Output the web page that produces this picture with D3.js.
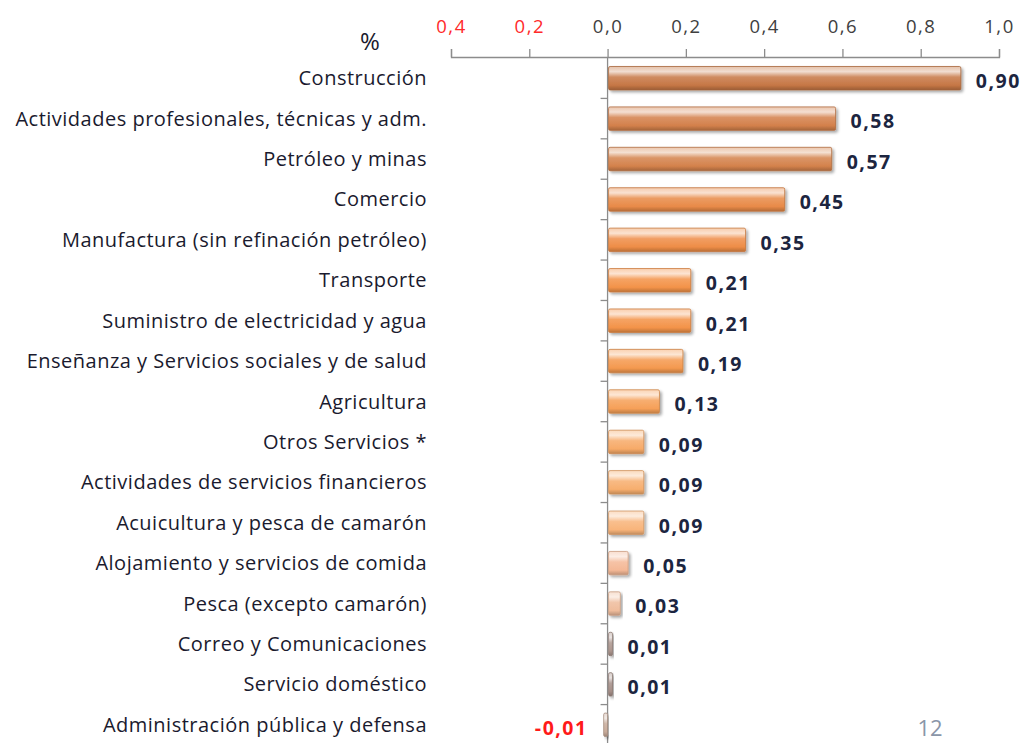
<!DOCTYPE html>
<html>
<head>
<meta charset="utf-8">
<script src="https://d3js.org/d3.v7.min.js"></script>
<style>
  body { margin: 0; background: #fff; }
  svg { font-family: "Open Sans", sans-serif; }
</style>
</head>
<body>
<script>
// sectors and their contribution (%)
var sectors = ["Construcción", "Actividades profesionales, técnicas y adm.", "Petróleo y minas",
  "Comercio", "Manufactura (sin refinación petróleo)", "Transporte",
  "Suministro de electricidad y agua", "Enseñanza  y Servicios sociales y de salud",
  "Agricultura", "Otros Servicios *", "Actividades de servicios financieros",
  "Acuicultura y pesca de camarón", "Alojamiento y servicios de comida ",
  "Pesca (excepto camarón)", "Correo y Comunicaciones", "Servicio doméstico",
  "Administración pública y defensa"]
var values = [0.90, 0.58, 0.57, 0.45, 0.35, 0.21, 0.21, 0.19, 0.13, 0.09, 0.09, 0.09, 0.05, 0.03, 0.01, 0.01, -0.01]
var tickValues = [-0.4, -0.2, 0, 0.2, 0.4, 0.6, 0.8, 1.0]

// bar colours, one per sector
var barColors = ["#c67745", "#d3804b", "#d4824c", "#e88a48", "#ee8d47", "#f39349", "#f39349",
  "#f4994f", "#f6a058", "#f7aa68", "#f7ae6e", "#f8b47a", "#f4b896", "#efbc9c",
  "#ad968e", "#a68f88", "#c8ab9a"]

var width = 1026, height = 743

var svg = d3.select("body").append("svg")
    .attr("width", width)
    .attr("height", height)

var fmt = function(v, d) {
  return v.toFixed(d).replace(".", ",")
}

var x = d3.scaleLinear().domain([-0.4, 1.0]).range([451, 999])
var y = d3.scaleBand().domain(sectors).range([58, 745]).paddingInner(0.42).paddingOuter(0.21)

var defs = svg.append("defs")
var shadow = defs.append("filter").attr("id", "shadow")
    .attr("x", "-10%").attr("y", "-30%").attr("width", "130%").attr("height", "180%")
shadow.append("feGaussianBlur").attr("in", "SourceAlpha").attr("stdDeviation", 1.5)
shadow.append("feOffset").attr("dx", 1.5).attr("dy", 2).attr("result", "off")
shadow.append("feComponentTransfer").append("feFuncA").attr("type", "linear").attr("slope", 0.35)
var merge = shadow.append("feMerge")
merge.append("feMergeNode")
merge.append("feMergeNode").attr("in", "SourceGraphic")

barColors.forEach(function(c, i) {
  var g = defs.append("linearGradient").attr("id", "grad" + i)
      .attr("x1", 0).attr("y1", 0).attr("x2", 0).attr("y2", 1)
  g.append("stop").attr("offset", "0%").attr("stop-color", d3.interpolateRgb(c, "#fff")(0.55))
  g.append("stop").attr("offset", "22%").attr("stop-color", d3.interpolateRgb(c, "#fff")(0.75))
  g.append("stop").attr("offset", "45%").attr("stop-color", d3.interpolateRgb(c, "#fff")(0.15))
  g.append("stop").attr("offset", "80%").attr("stop-color", c)
  g.append("stop").attr("offset", "100%").attr("stop-color", d3.color(c).darker(0.7))
})

// top axis
var axisTop = d3.axisTop(x)
    .tickValues(tickValues)
    .tickSize(8)
    .tickPadding(16)
    .tickFormat(function(d) { return fmt(Math.abs(d), 1) })

var gx = svg.append("g")
    .attr("transform", "translate(0,57)")
    .call(axisTop)
gx.select(".domain").attr("stroke", "#8c8c8c").attr("stroke-width", 1.3)
gx.selectAll(".tick line").attr("stroke", "#8c8c8c").attr("stroke-width", 1.3)
gx.selectAll(".tick text")
    .attr("font-size", 18.5)
    .attr("letter-spacing", 1.5)
    .attr("font-family", "'Open Sans', sans-serif")
    .attr("fill", function(d) { return d < 0 ? "#ff2a2a" : "#404040" })

// vertical axis at zero
svg.append("line")
    .attr("x1", x(0)).attr("x2", x(0))
    .attr("y1", 57).attr("y2", height)
    .attr("stroke", "#8c8c8c").attr("stroke-width", 1.3)

var gap = (y.step() - y.bandwidth()) / 2
svg.append("g").selectAll("line")
    .data(sectors.slice(1))
    .enter().append("line")
    .attr("x1", x(0) - 7).attr("x2", x(0))
    .attr("y1", function(d) { return y(d) - gap })
    .attr("y2", function(d) { return y(d) - gap })
    .attr("stroke", "#8c8c8c").attr("stroke-width", 1.3)

// bars
svg.append("g").selectAll("rect")
    .data(values)
    .enter().append("rect")
    .attr("x", function(d) { return x(Math.min(0, d)) + (d < 0 ? 0 : 1) })
    .attr("y", function(d, i) { return y(sectors[i]) })
    .attr("width", function(d) { return Math.max(3, Math.abs(x(d) - x(0))) })
    .attr("height", y.bandwidth())
    .attr("rx", 1.5)
    .attr("fill", function(d, i) { return "url(#grad" + i + ")" })
    .attr("stroke", function(d, i) { return d3.color(barColors[i]).darker(0.5) })
    .attr("stroke-width", 0.8)
    .attr("filter", "url(#shadow)")

// category labels
svg.append("g").selectAll("text")
    .data(sectors)
    .enter().append("text")
    .attr("x", 427)
    .attr("y", function(d) { return y(d) + y.bandwidth() / 2 })
    .attr("dy", "0.35em")
    .attr("text-anchor", "end")
    .attr("font-size", 20)
    .attr("letter-spacing", 0.5)
    .attr("fill", "#1a1a2e")
    .text(function(d) { return d })

// value labels
svg.append("g").selectAll("text")
    .data(values)
    .enter().append("text")
    .attr("x", function(d) { return d < 0 ? x(d) - 16 : x(d) + 16 })
    .attr("y", function(d, i) { return y(sectors[i]) + y.bandwidth() / 2 + 3 })
    .attr("dy", "0.35em")
    .attr("text-anchor", function(d) { return d < 0 ? "end" : "start" })
    .attr("font-size", 19.5)
    .attr("letter-spacing", 1.5)
    .attr("font-weight", "bold")
    .attr("fill", function(d) { return d < 0 ? "#ff1a1a" : "#1c2540" })
    .text(function(d) { return fmt(d, 2) })

// unit
svg.append("text")
    .attr("x", 370).attr("y", 42)
    .attr("dy", "0.35em")
    .attr("text-anchor", "middle")
    .attr("font-size", 24)
    .attr("fill", "#1a1a2e")
    .text("%")

// slide number
svg.append("text")
    .attr("x", 930).attr("y", 728)
    .attr("dy", "0.35em")
    .attr("text-anchor", "middle")
    .attr("font-size", 22)
    .attr("fill", "#8a96a8")
    .text("12")
</script>
</body>
</html>
